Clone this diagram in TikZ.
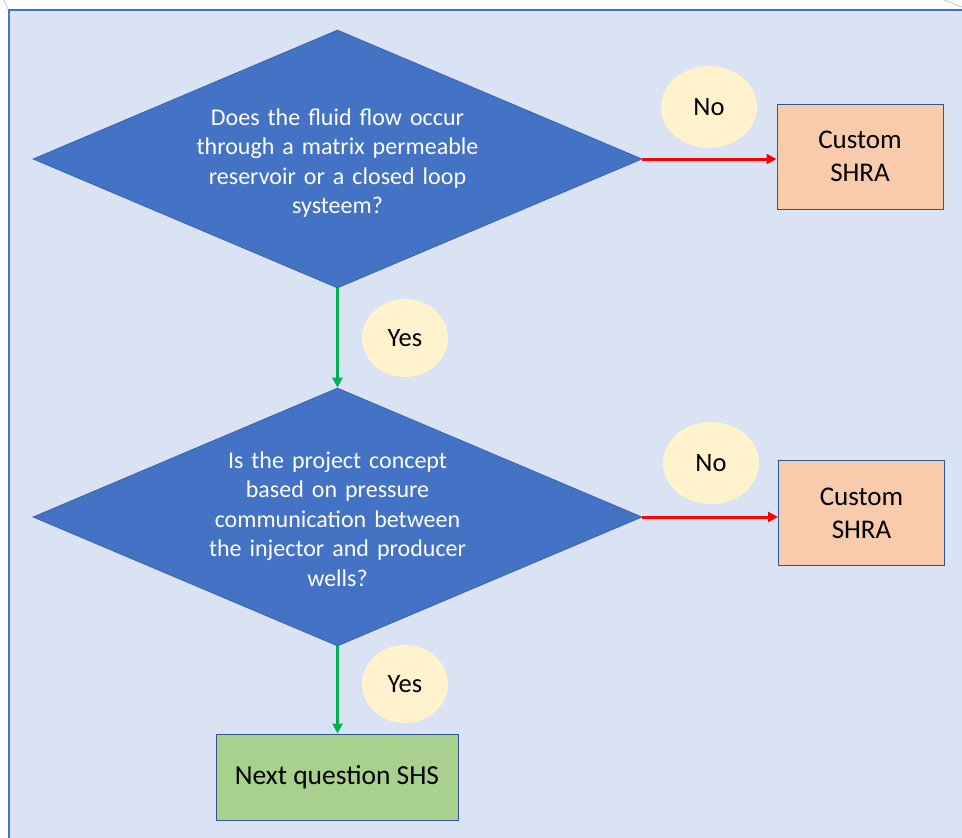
\documentclass[tikz,border=0pt]{standalone}
\usepackage{fontspec}
\setmainfont{Carlito}
\usetikzlibrary{shapes.geometric,arrows.meta}
\definecolor{bgblue}{HTML}{DAE3F3}
\definecolor{frameblue}{HTML}{4472C4}
\definecolor{diafill}{HTML}{4472C4}
\definecolor{diaedge}{HTML}{3A65B0}
\definecolor{boxedge}{HTML}{2F5597}
\definecolor{peach}{HTML}{F8CBAD}
\definecolor{leaf}{HTML}{A9D18E}
\definecolor{cream}{HTML}{FFF2CC}
\definecolor{arrred}{HTML}{FF0000}
\definecolor{arrgreen}{HTML}{00B050}
\tikzset{
  question/.style={diamond, aspect=2.36, minimum width=609pt, minimum height=258pt,
    inner sep=0pt, fill=diafill, draw=diaedge, line width=0.8pt},
  qtext/.style={text=white, text width=300pt, align=center, inner sep=0pt,
    font=\fontsize{24}{29.5}\selectfont},
  outbox/.style={rectangle, fill=peach, draw=boxedge, line width=1pt,
    minimum width=166pt, minimum height=105pt, align=center,
    font=\fontsize{27}{33}\selectfont},
  nextbox/.style={rectangle, fill=leaf, draw=boxedge, line width=1pt,
    minimum width=242pt, minimum height=86pt, align=center,
    font=\fontsize{27.5}{33}\selectfont},
  answer/.style={ellipse, fill=cream, draw=none, inner sep=0pt,
    font=\fontsize{26.5}{32}\selectfont},
  noarrow/.style={draw=arrred, line width=3pt, -{Triangle[length=10pt,width=10pt]}},
  yesarrow/.style={draw=arrgreen, line width=3pt, -{Triangle[length=10pt,width=10pt]}},
}
\begin{document}
\begin{tikzpicture}[x=1pt,y=-1pt]
\useasboundingbox (0,0) rectangle (962,838);
% panel
\fill[bgblue] (9,10) rectangle (980,860);
\draw[frameblue, line width=2pt] (9,860) -- (9,10) -- (980,10);
\draw[frameblue!50, line width=0.6pt] (4,0) .. controls (6,4) .. (8,9);
\draw[frameblue!40, line width=0.8pt] (944,0) -- (962,7);
% nodes
\node[question] (q1) at (337.5,159) {};
\node[qtext] (t1) at (337.5,163) {Does the fluid flow occur\\through a matrix permeable\\reservoir or a closed loop\\systeem?};
\node[question] (q2) at (337.5,517) {};
\node[qtext] (t2) at (337.5,519) {Is the project concept\\based on pressure\\communication between\\the injector and producer\\wells?};
\node[outbox] (c1) at (860,156.5) {Custom\\SHRA};
\node[outbox] (c2) at (861.5,513) {Custom\\SHRA};
\node[nextbox] (n1) at (337,777) {Next question SHS};
\node[answer, minimum width=96pt, minimum height=82pt] (no1) at (709,107) {No};
\node[answer, minimum width=96pt, minimum height=82pt] (no2) at (711,463) {No};
\node[answer, minimum width=86pt, minimum height=78pt] (yes1) at (405,338) {Yes};
\node[answer, minimum width=86pt, minimum height=78pt] (yes2) at (405,684) {Yes};
% connectors
\draw[noarrow] (q1.east) -- (c1.west |- q1.east);
\draw[noarrow] (q2.east) -- (c2.west |- q2.east);
\draw[yesarrow] (q1.south) -- (q2.north);
\draw[yesarrow] (q2.south) -- (n1.north -| q2.south);
\end{tikzpicture}
\end{document}
